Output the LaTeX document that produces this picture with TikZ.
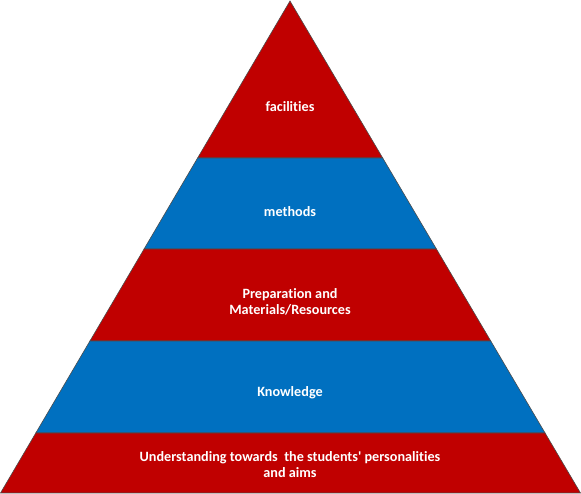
\documentclass[tikz,border=0pt]{standalone}
\usepackage{fontspec}
\setmainfont{Carlito}[Ligatures={NoCommon,NoRare,NoDiscretionary,NoContextual}]
\usepackage{tikz}
\usetikzlibrary{calc}
\definecolor{layerred}{HTML}{C00000}
\definecolor{layerblue}{HTML}{0070C0}
\tikzset{
  layer/.style={draw=black!70, line width=0.6pt, line join=miter},
  layer text/.style={
    text=white,
    font=\fontsize{14.2}{16}\selectfont\bfseries,
    align=center
  }
}

\begin{document}
\begin{tikzpicture}[x=1pt, y=1pt]
  \useasboundingbox (0,0) rectangle (581,494);
  \coordinate (apex) at (290,493);
  \coordinate (bl) at (0.5,1);
  \coordinate (br) at (580.5,1);

  % layers, top to bottom
  \filldraw[layer, fill=layerred] (apex) -- ($(apex)!0.3191!(br)$) -- ($(apex)!0.3191!(bl)$) -- cycle;
  \filldraw[layer, fill=layerblue] ($(apex)!0.3191!(bl)$) -- ($(apex)!0.3191!(br)$) -- ($(apex)!0.5041!(br)$) -- ($(apex)!0.5041!(bl)$) -- cycle;
  \filldraw[layer, fill=layerred] ($(apex)!0.5041!(bl)$) -- ($(apex)!0.5041!(br)$) -- ($(apex)!0.6911!(br)$) -- ($(apex)!0.6911!(bl)$) -- cycle;
  \filldraw[layer, fill=layerblue] ($(apex)!0.6911!(bl)$) -- ($(apex)!0.6911!(br)$) -- ($(apex)!0.878!(br)$) -- ($(apex)!0.878!(bl)$) -- cycle;
  \filldraw[layer, fill=layerred] ($(apex)!0.878!(bl)$) -- ($(apex)!0.878!(br)$) -- (br) -- (bl) -- cycle;

  % labels
  \node[layer text] (facilities) at (290,387) {facilities};
  \node[layer text] (methods) at (290,282) {methods};
  \node[layer text] (preparation) at (290,192) {Preparation and\\Materials/Resources};
  \node[layer text] (knowledge) at (290,101) {Knowledge};
  \node[layer text] (understanding) at (290,29) {Understanding towards\ \ the students\textquotesingle\ personalities\\and aims};
\end{tikzpicture}
\end{document}
